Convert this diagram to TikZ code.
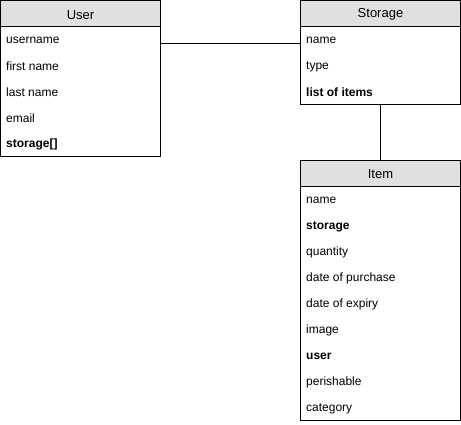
\documentclass[tikz,border=0pt]{standalone}
\usepackage{fontspec}
\setmainfont{Liberation Sans}
\usetikzlibrary{calc}
\definecolor{hdr}{RGB}{224,224,224}
\tikzset{
  ent/.style={draw=black, line width=1pt, inner sep=0pt, outer sep=0pt, anchor=north west, minimum width=160pt},
  hdrbox/.style={ent, fill=hdr, minimum height=25.5pt},
  hdrtext/.style={inner sep=0pt, font=\fontsize{13}{15}\selectfont},
  bodybox/.style={ent, fill=white},
  row/.style={anchor=west, inner sep=0pt, font=\fontsize{12}{14}\selectfont},
  brow/.style={row, font=\fontsize{12}{14}\selectfont\bfseries},
  link/.style={draw=black, line width=1pt}
}
\begin{document}
\begin{tikzpicture}[x=1pt, y=-1pt]
\useasboundingbox (0,0) rectangle (461,424);
% User
\node[bodybox, minimum height=130pt] (userbody) at (0.5,26) {};
\node[hdrbox] (userhead) at (0.5,0.5) {};
\node[hdrtext] (usertitle) at ($(userhead.center)+(0,1.5)$) {User};
\node[row] (u1) at (6,40.5) {username};
\node[row] (u2) at (6,66.5) {first name};
\node[row] (u3) at (6,92.5) {last name};
\node[row] (u4) at (6,118.5) {email};
\node[brow] (u5) at (6,144.5) {storage[]};
% Storage
\node[bodybox, minimum height=78pt] (storebody) at (300.5,26) {};
\node[hdrbox] (storehead) at (300.5,0.5) {};
\node[hdrtext] (storetitle) at ($(storehead.center)+(0,1.5)$) {Storage};
\node[row] (s1) at (306,40.5) {name};
\node[row] (s2) at (306,66.5) {type};
\node[brow] (s3) at (306,92.5) {list of items};
% Item
\node[bodybox, minimum height=234.5pt] (itembody) at (300.5,186) {};
\node[hdrbox, minimum height=26pt] (itemhead) at (300.5,160) {};
\node[hdrtext] (itemtitle) at ($(itemhead.center)+(0,1.5)$) {Item};
\node[row] (i1) at (306,200.5) {name};
\node[brow] (i2) at (306,226.5) {storage};
\node[row] (i3) at (306,252.5) {quantity};
\node[row] (i4) at (306,278.5) {date of purchase};
\node[row] (i5) at (306,304.5) {date of expiry};
\node[row] (i6) at (306,330.5) {image};
\node[brow] (i7) at (306,356.5) {user};
\node[row] (i8) at (306,382.5) {perishable};
\node[row] (i9) at (306,408.5) {category};
% connectors
\coordinate (c1) at ($(userbody.north east)+(0,17)$);
\draw[link] (c1) -- (c1 -| storebody.west);
\draw[link] (storebody.south) -- (itemhead.north);
\end{tikzpicture}
\end{document}
